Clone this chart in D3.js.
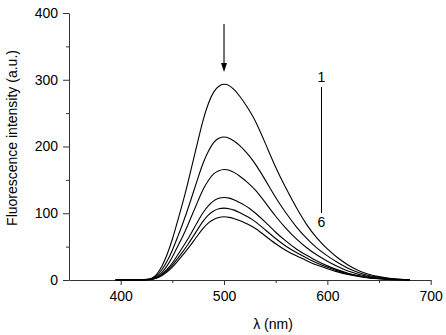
<!DOCTYPE html>
<html>
<head>
<meta charset="utf-8">
<script src="https://cdn.jsdelivr.net/npm/d3@7"></script>
<style>
  html, body { margin: 0; padding: 0; background: #fff; }
  svg { display: block; font-family: "Liberation Sans", Arial, Helvetica, sans-serif; }
</style>
</head>
<body>
<svg id="chart" width="446" height="335"></svg>
<script>
// ---- data ----
const wavelengths = [395,410,420,425,430,435,440,445,450,455,460,465,470,475,480,485,490,495,500,505,510,515,520,525,530,540,550,560,570,580,590,600,610,620,630,640,650,660,670,680];
const curve1 = [0,0,0.3,0.8,2,8,20,38,60,88,115,145,178,210,242,266,283,291,294,292,285,276,265,253,240,205,168,137,108,82,62,46,33,22,14,8,5,2.5,1,0];
const curve2 = [0,0,0.2,0.6,1.5,6,15,28,44,64,84,106,130,154,177,194,207,213,215,213,208,202,194,185,175,150,123,100,79,62,47,36,26,17,11,6.5,4,2,0.8,0];
const curve3 = [0,0,0.2,0.5,1.1,4.5,11,21,34,50,65,82,101,119,137,150,160,164,166,165,161,156,150,143,136,116,95,77,61,48,37,28,20,13,8.5,5,3,1.5,0.6,0];
const curve4 = [0,0,0.1,0.3,0.8,3.4,8.4,16,25,37,49,61,75,89,102,112,119,123,124,123,120,116,112,107,101,87,71,58,46,37,28,21,15,10,6.5,3.8,2.2,1,0.4,0];
const curve5 = [0,0,0.1,0.3,0.7,2.9,7.3,14,22,32,42,53,65,77,89,98,104,107,108,107,105,101,97,93,88,75,62,50,41,33,25,19,13.5,9,5.8,3.4,2,0.9,0.4,0];
const curve6 = [0,0,0.1,0.3,0.6,2.6,6.5,12,19,28,37,47,57,68,78,86,91,94,95,94,92,89,86,82,78,66,54,44,36,29,22,17,12,8,5,3,1.8,0.8,0.3,0];
const seriesList = [curve1, curve2, curve3, curve4, curve5, curve6];
const xMajorTicks = [400, 500, 600, 700];
const xMinorTicks = [450, 550, 650];
const yMajorTicks = [0, 100, 200, 300, 400];
const yMinorTicks = [50, 150, 250, 350];
const xTitle = "λ (nm)";
const yTitle = "Fluorescence intensity (a.u.)";
const topLabel = "1";
const bottomLabel = "6";
const arrowWavelength = 500;

// ---- layout ----
const svg = d3.select("#chart");
const x = d3.scaleLinear().domain([350, 700]).range([69, 430.7]);
const y = d3.scaleLinear().domain([0, 400]).range([280, 13]);
const axisColor = "#333";
const fs = 14;

// x axis
const gx = svg.append("g").attr("transform", `translate(0,${y(0)})`);
gx.call(d3.axisBottom(x).tickValues(xMajorTicks).tickSize(5).tickSizeOuter(0).tickPadding(6).tickFormat(d3.format("d")));
gx.append("g").call(d3.axisBottom(x).tickValues(xMinorTicks).tickSize(3).tickSizeOuter(0).tickFormat(""))
  .select(".domain").remove();
gx.selectAll(".domain, line").attr("stroke", axisColor);
gx.selectAll("text").attr("font-size", fs).attr("fill", "#000").attr("font-family", "Liberation Sans, Arial, sans-serif");

// y axis
const gy = svg.append("g").attr("transform", `translate(${x(350)},0)`);
gy.call(d3.axisLeft(y).tickValues(yMajorTicks).tickSize(6).tickSizeOuter(0).tickPadding(5).tickFormat(d3.format("d")));
gy.append("g").call(d3.axisLeft(y).tickValues(yMinorTicks).tickSize(3).tickSizeOuter(0).tickFormat(""))
  .select(".domain").remove();
gy.selectAll(".domain, line").attr("stroke", axisColor);
gy.selectAll("text").attr("font-size", fs).attr("fill", "#000").attr("font-family", "Liberation Sans, Arial, sans-serif");

// titles
svg.append("text").attr("x", 273).attr("y", 329).attr("text-anchor", "middle")
  .attr("font-size", fs).text(xTitle);
svg.append("text").attr("transform", `translate(17,${138}) rotate(-90)`).attr("text-anchor", "middle")
  .attr("font-size", fs).text(yTitle);

// curves
const line = d3.line().x((d, i) => x(wavelengths[i])).y(d => y(d)).curve(d3.curveBasis);
svg.append("g").selectAll("path").data(seriesList).join("path")
  .attr("d", line).attr("fill", "none").attr("stroke", "#000").attr("stroke-width", 1.1);

// arrow
const ax = x(arrowWavelength);
svg.append("line").attr("x1", ax).attr("x2", ax).attr("y1", 24).attr("y2", 66)
  .attr("stroke", "#000").attr("stroke-width", 1.1);
svg.append("path").attr("d", `M${ax - 3},${63} L${ax + 3},${63} L${ax},${72} Z`).attr("fill", "#000");

// 1 ... 6 label
const lx = 321.5;
svg.append("text").attr("x", lx).attr("y", 82).attr("text-anchor", "middle").attr("font-size", fs).text(topLabel);
svg.append("line").attr("x1", lx).attr("x2", lx).attr("y1", 87).attr("y2", 213).attr("stroke", "#000").attr("stroke-width", 1);
svg.append("text").attr("x", lx).attr("y", 227).attr("text-anchor", "middle").attr("font-size", fs).text(bottomLabel);
</script>
</body>
</html>
